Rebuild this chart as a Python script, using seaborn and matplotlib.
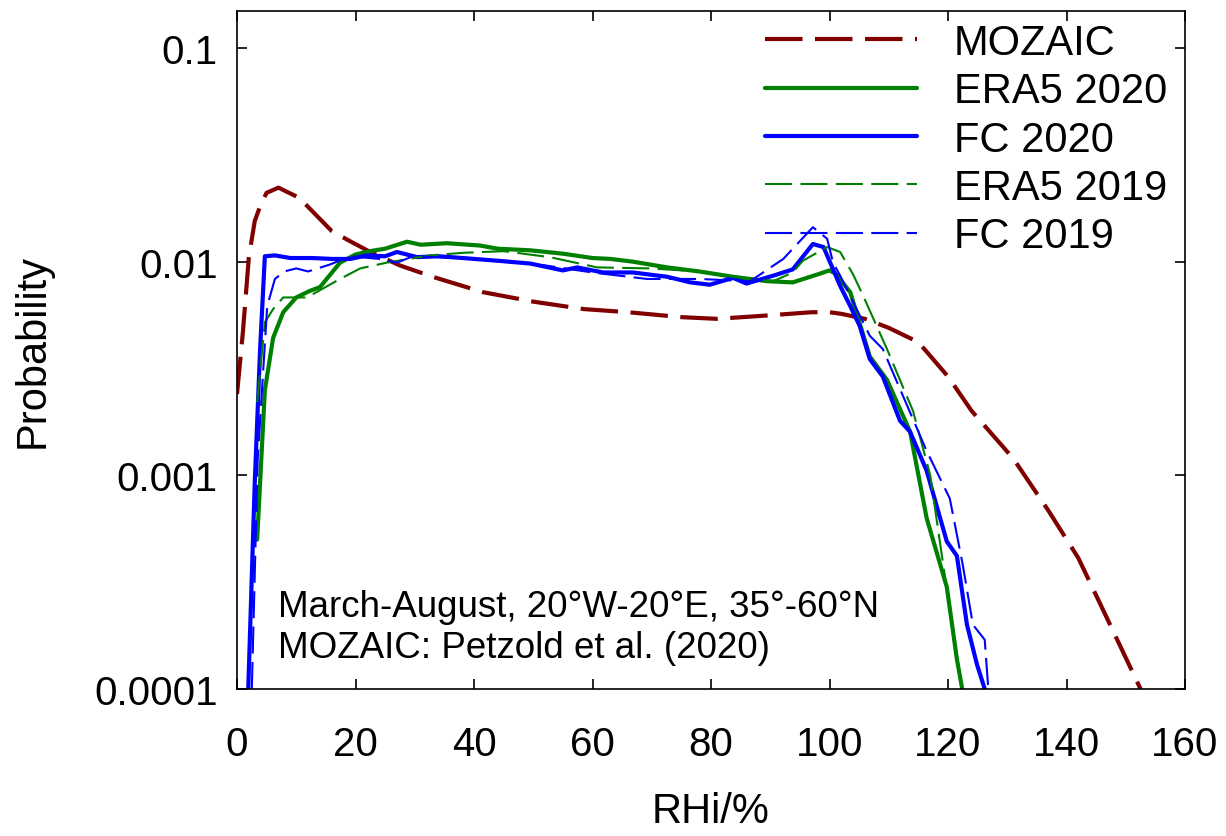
"""Probability distribution of RHi: MOZAIC vs ERA5 / FC (2019, 2020)."""

import matplotlib
matplotlib.use("Agg")
import matplotlib.pyplot as plt
import matplotlib.ticker as mticker
import seaborn as sns

# ---------------------------------------------------------------- data
MOZAIC_X = [0, 1, 2, 3, 4, 5, 7, 10.5, 16, 19, 22.5, 27.5, 33, 41.5, 50, 58.5,
            66, 75, 81, 89.5, 97, 100, 102, 106, 110, 115, 120, 124, 131, 137,
            142, 146, 152.5]
MOZAIC_Y = [0.0024, 0.0047, 0.0105, 0.0155, 0.0185, 0.021, 0.0222, 0.0199,
            0.0139, 0.0125, 0.0111, 0.0096, 0.0085, 0.0072, 0.0065, 0.0060,
            0.0058, 0.0055, 0.0054, 0.0056, 0.0058, 0.0058, 0.0057, 0.0054,
            0.0049, 0.0042, 0.0029, 0.0020, 0.0012, 0.00068, 0.00041, 0.00024,
            0.0001]

ERA5_2020_X = [3.4, 4.7, 6.1, 7.8, 10, 12.3, 14, 17.4, 20, 22.4, 25, 28.7, 31,
               35.4, 41, 44, 49.5, 55, 60, 63, 66.8, 72.6, 78, 83.7, 89.5,
               93.8, 97.9, 100, 101, 103.5, 106.8, 109.7, 113.6, 116.4, 119.8,
               121.5, 122.4]
ERA5_2020_Y = [0.0005, 0.0025, 0.0044, 0.0058, 0.0068, 0.0073, 0.0076, 0.0099,
               0.0108, 0.0112, 0.0115, 0.0124, 0.0120, 0.0122, 0.0119, 0.0115,
               0.0113, 0.0109, 0.0104, 0.0103, 0.0100, 0.0094, 0.0090, 0.0085,
               0.0081, 0.0080, 0.0087, 0.0091, 0.0088, 0.0072, 0.0036, 0.0028,
               0.0016, 0.00063, 0.00030, 0.000138, 0.0001]

FC_2020_X = [1.9, 3, 3.9, 4.7, 6.4, 9, 12.8, 16, 19.1, 22, 25, 27, 30.4, 34,
             38.1, 44, 49.5, 55, 57.4, 61.8, 66.8, 72.6, 76.5, 79.8, 83.7, 86,
             90.5, 93.8, 97.2, 99, 101.8, 103.5, 105.1, 106.8, 109, 111.9,
             113.6, 116.4, 119.8, 121.5, 123.2, 124.9, 126.2]
FC_2020_Y = [0.0001, 0.00093, 0.0039, 0.0106, 0.0107, 0.0104, 0.0104, 0.0103,
             0.0103, 0.0107, 0.0106, 0.0111, 0.0105, 0.0106, 0.0104, 0.0101,
             0.0098, 0.0091, 0.0094, 0.0089, 0.0089, 0.0085, 0.0080, 0.0078,
             0.0084, 0.0079, 0.0086, 0.0092, 0.0121, 0.0117, 0.0077, 0.0062,
             0.0050, 0.0035, 0.0029, 0.0018, 0.0016, 0.00105, 0.00049,
             0.00042, 0.0002, 0.00013, 0.0001]

ERA5_2019_X = [3.4, 4.7, 6.1, 7.8, 11.8, 17.4, 20.8, 25.3, 32.6, 38.1, 45,
               52.8, 60.8, 69.7, 78, 84.9, 90.5, 93.8, 95.5, 99.6, 101.8, 104,
               105.7, 109.7, 114.1, 117, 119.2, 120.8, 122.4]
ERA5_2019_Y = [0.0022, 0.0052, 0.0060, 0.0068, 0.0068, 0.0083, 0.0093, 0.0099,
               0.0107, 0.0110, 0.0112, 0.0105, 0.0094, 0.0093, 0.0090, 0.0084,
               0.0081, 0.0089, 0.0101, 0.0117, 0.0111, 0.0087, 0.0069, 0.0039,
               0.0020, 0.0010, 0.00038, 0.00019, 0.0001]

FC_2019_X = [2.5, 3.5, 5.1, 6.4, 8, 10, 12, 15.7, 19.1, 24, 27, 29.7, 38.1, 45,
             52, 60, 69.2, 78, 86.6, 92.2, 97.2, 99.6, 100.6, 101.8, 106.8,
             109, 116.4, 120.3, 122.5, 124.2, 126.2, 126.8]
FC_2019_Y = [0.0001, 0.0012, 0.0062, 0.0083, 0.0090, 0.0093, 0.0090, 0.0097,
             0.0106, 0.0103, 0.0099, 0.0106, 0.0104, 0.0100, 0.0096, 0.0089,
             0.0083, 0.0083, 0.0081, 0.0103, 0.0145, 0.0128, 0.0099, 0.0086,
             0.0045, 0.0039, 0.0013, 0.00078, 0.00038, 0.0002, 0.00017, 0.0001]

X_TICKS = [0, 20, 40, 60, 80, 100, 120, 140, 160]
Y_TICKS = [0.0001, 0.001, 0.01, 0.1]

# (label, x, y, colour, linewidth, dash pattern)
SERIES = [
    ("MOZAIC",    MOZAIC_X,    MOZAIC_Y,    "#800000", 3.0, (9, 3)),
    ("ERA5 2020", ERA5_2020_X, ERA5_2020_Y, "#008000", 3.0, None),
    ("FC 2020",   FC_2020_X,   FC_2020_Y,   "#0000FF", 3.0, None),
    ("ERA5 2019", ERA5_2019_X, ERA5_2019_Y, "#008000", 1.5, (13, 4)),
    ("FC 2019",   FC_2019_X,   FC_2019_Y,   "#0000FF", 1.5, (13, 4)),
]


def main() -> None:
    sns.set_style("ticks")
    plt.rcParams["font.family"] = ["Liberation Sans", "DejaVu Sans"]
    plt.rcParams.update({
        "axes.linewidth": 1.2,
        "text.color": "black",
        "axes.labelcolor": "black",
        "xtick.color": "black",
        "ytick.color": "black",
        "axes.edgecolor": "black",
    })

    fig = plt.figure(figsize=(12.26, 8.37), dpi=100)
    W, H = 1226, 837
    ax = fig.add_axes([237 / W, 1 - 690 / H, (1185 - 237) / W, (690 - 12) / H])

    for label, xs, ys, color, lw, dash in SERIES:
        ls = "-" if dash is None else (0, dash)
        sns.lineplot(x=xs, y=ys, ax=ax, color=color, linewidth=lw,
                     linestyle=ls, label=label, sort=False,
                     estimator=None, errorbar=None)

    ax.set_yscale("log")
    ax.set_xlim(0, 160)
    ax.set_ylim(0.0001, 0.149)
    ax.set_xticks(X_TICKS)
    ax.set_yticks(Y_TICKS)
    ax.yaxis.set_major_formatter(mticker.FuncFormatter(lambda v, _: f"{v:g}"))
    ax.yaxis.set_minor_locator(mticker.NullLocator())
    ax.tick_params(axis="both", which="major", direction="in", length=7,
                   width=1.2, top=True, right=True, labelsize=29,
                   colors="black")
    ax.tick_params(axis="x", pad=26)
    ax.tick_params(axis="y", pad=14)
    for sp_ in ax.spines.values():
        sp_.set_visible(True)
        sp_.set_linewidth(1.2)
        sp_.set_color("black")

    ax.set_xlabel("RHi/%", fontsize=30, labelpad=20)
    ax.set_ylabel("Probability", fontsize=30, labelpad=30)

    ax.text(6.9, 0.000195, "March-August, 20°W-20°E, 35°-60°N\n"
            "MOZAIC: Petzold et al. (2020)",
            fontsize=26.5, va="center", ha="left", linespacing=1.25)

    ax.legend(loc="upper left", bbox_to_anchor=(765 / W, 1 - 24 / H),
              bbox_transform=fig.transFigure, frameon=False, fontsize=30,
              handlelength=3.65, handletextpad=0.88, labelspacing=0.2,
              borderpad=0, borderaxespad=0)

    fig.savefig("out.png", dpi=100)
    plt.close(fig)


if __name__ == "__main__":
    main()
